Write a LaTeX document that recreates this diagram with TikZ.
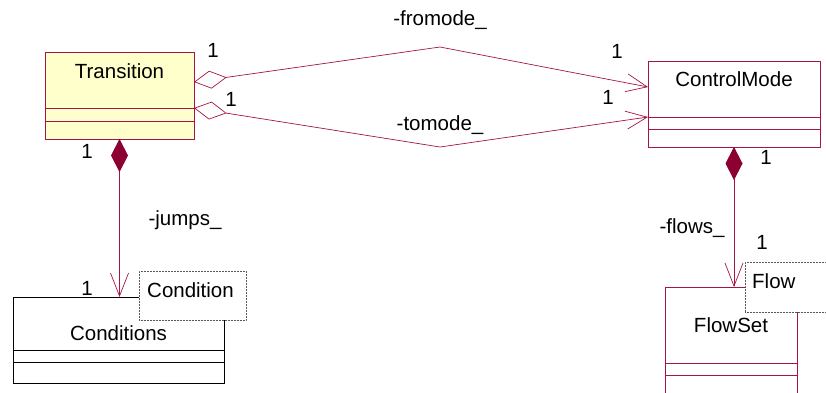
\documentclass[tikz,border=0pt]{standalone}
\usepackage{fontspec}
\setmainfont{Liberation Sans}
\usetikzlibrary{arrows.meta,positioning,calc}
\definecolor{UmlBorda}{RGB}{165,20,70}
\definecolor{UmlEscuro}{RGB}{140,0,50}
\definecolor{UmlAmarelo}{RGB}{255,255,204}
\tikzset{
  classe/.style={draw=UmlBorda, line width=0.8pt, inner sep=0pt, outer sep=0pt},
  classepreta/.style={classe, draw=black},
  modelo/.style={draw=black!65, densely dotted, line width=0.5pt, fill=white,
                 inner sep=0pt, outer sep=0pt},
  texto/.style={font=\fontsize{20.5pt}{24pt}\selectfont, inner sep=0pt},
  assoc/.style={UmlBorda, line width=0.7pt},
  agreg/.style={{Diamond[open, length=33pt, width=18pt]}-{Straight Barb[length=21pt, width=18pt]}},
  compos/.style={{Diamond[color=UmlEscuro, length=33pt, width=17pt]}-{Straight Barb[length=23pt, width=18pt]}},
}

\begin{document}
\begin{tikzpicture}[x=1pt, y=-1pt]
  \useasboundingbox (0,0) rectangle (826,392);

  % Transition
  \node[classe, fill=UmlAmarelo, minimum width=149pt, minimum height=56pt] (trans) at (119.5,80) {};
  \node[classe, fill=UmlAmarelo, minimum width=149pt, minimum height=13pt, below=0pt of trans] (trans-attr) {};
  \node[classe, fill=UmlAmarelo, minimum width=149pt, minimum height=18pt, below=0pt of trans-attr] (trans-op) {};
  \node[texto] (trans-nome) at ($(trans.north)+(0,19)$) {Transition};

  % ControlMode
  \node[classe, minimum width=172pt, minimum height=56pt] (cm) at (734,89) {};
  \node[classe, minimum width=172pt, minimum height=12pt, below=0pt of cm] (cm-attr) {};
  \node[classe, minimum width=172pt, minimum height=18pt, below=0pt of cm-attr] (cm-op) {};
  \node[texto] (cm-nome) at ($(cm.north)+(0,18)$) {ControlMode};

  % Conditions
  \node[classepreta, minimum width=211pt, minimum height=53pt] (cond) at (118.5,323.5) {};
  \node[classepreta, minimum width=211pt, minimum height=12pt, below=0pt of cond] (cond-attr) {};
  \node[classepreta, minimum width=211pt, minimum height=21pt, below=0pt of cond-attr] (cond-op) {};
  \node[texto] (cond-nome) at ($(cond.north)+(0,36)$) {Conditions};
  \node[modelo, minimum width=107pt, minimum height=49pt] (cond-mod) at (192.5,295.5) {};
  \node[texto, anchor=west] (cond-param) at ($(cond-mod.west)+(8,-5)$) {Condition};

  % FlowSet
  \node[classe, minimum width=132pt, minimum height=76pt] (fs) at (731,325) {};
  \node[classe, minimum width=132pt, minimum height=12pt, below=0pt of fs] (fs-attr) {};
  \node[classe, minimum width=132pt, minimum height=35pt, below=0pt of fs-attr] (fs-op) {};
  \node[texto] (fs-nome) at ($(fs.north)+(0,38)$) {FlowSet};
  \node[modelo, minimum width=90pt, minimum height=50pt] (fs-mod) at (790,287) {};
  \node[texto, anchor=west] (fs-param) at ($(fs-mod.west)+(7,-6)$) {Flow};

  % associacoes
  \coordinate (dobra1) at (440,47);
  \coordinate (dobra2) at (440,147);
  \draw[assoc, agreg] ($(trans.east)+(0,2)$) -- (dobra1) -- ($(cm.west)+(0,-2)$);
  \draw[assoc, agreg] (trans.south east) -- (dobra2) -- (cm.south west);
  \draw[assoc, compos] (trans-op.south) -- (trans-op.south |- cond.north);
  \draw[assoc, compos] (cm-op.south) -- (cm-op.south |- fs.north);

  % rotulos
  \node[texto] (r-from) at (440,20) {-fromode\_};
  \node[texto] (r-to) at (440,125) {-tomode\_};
  \node[texto] (r-jumps) at (185,220) {-jumps\_};
  \node[texto] (r-flows) at (692,228) {-flows\_};
  \foreach \nome/\pos in {m1/{(213,50)}, m2/{(231,99)}, m3/{(617,51)}, m4/{(608,97)},
                          m5/{(87,151)}, m6/{(87,288)}, m7/{(766,157)}, m8/{(762,242)}}{
    \node[texto] (\nome) at \pos {1};
  }
\end{tikzpicture}
\end{document}
